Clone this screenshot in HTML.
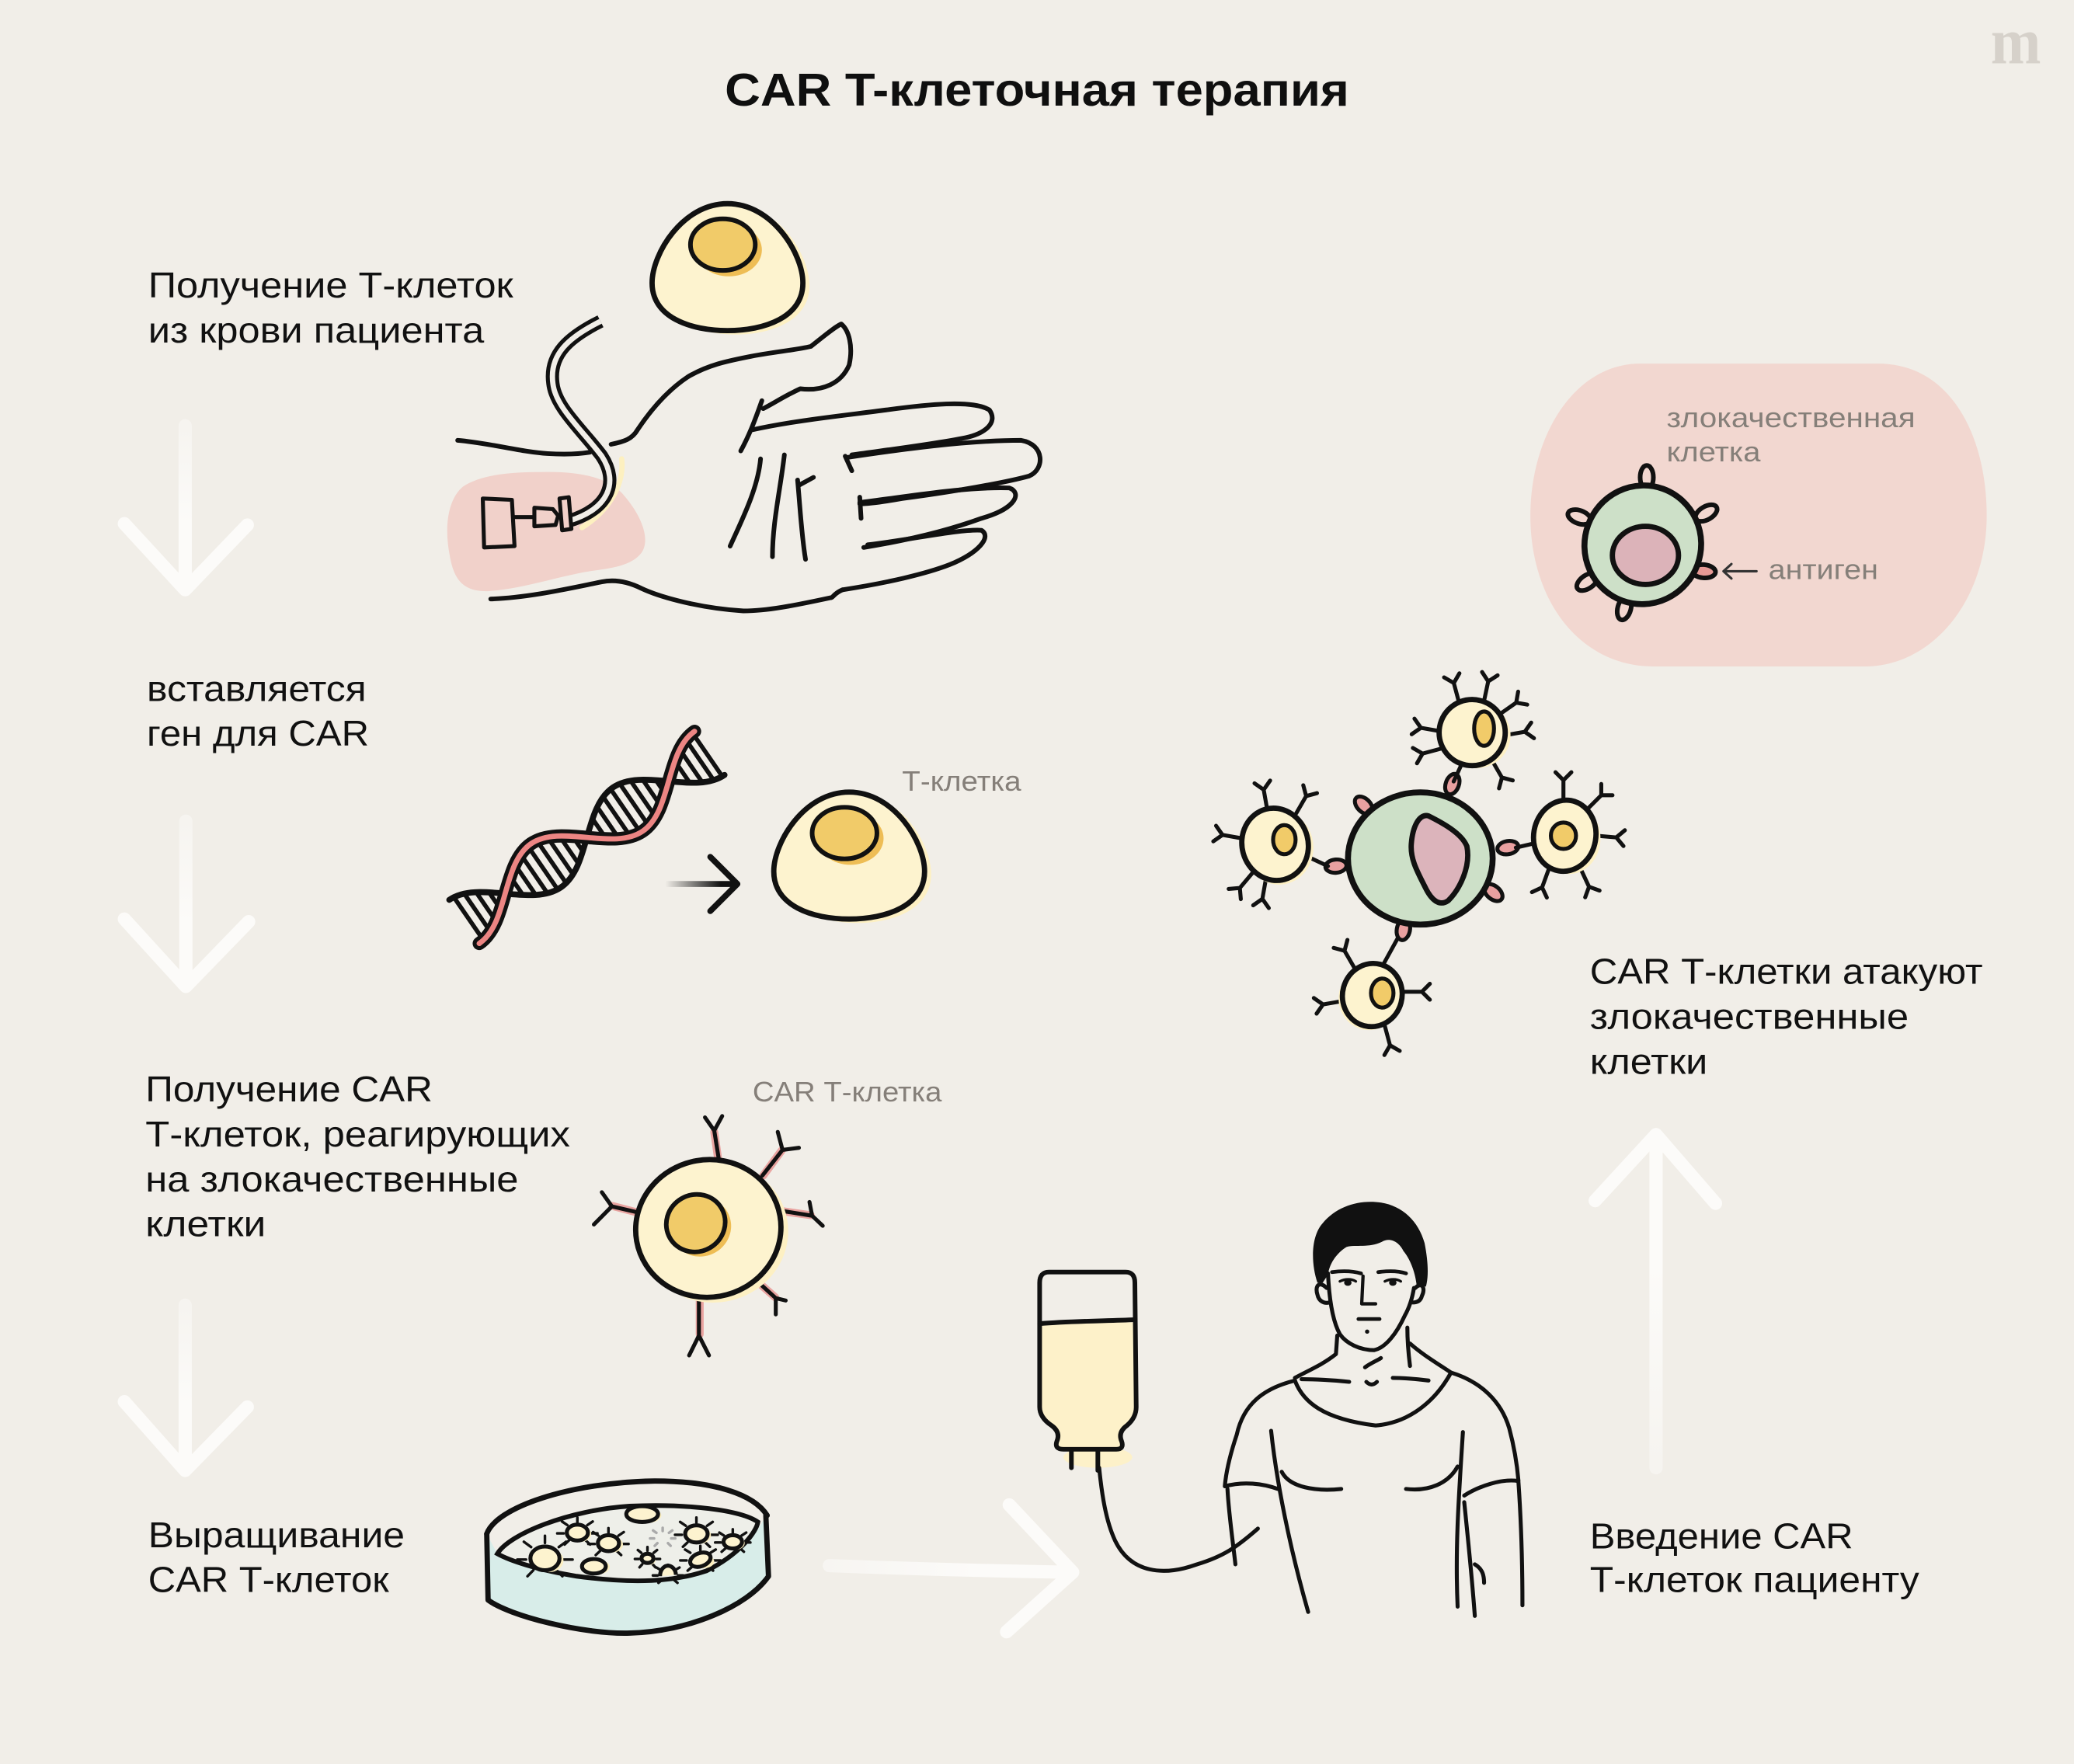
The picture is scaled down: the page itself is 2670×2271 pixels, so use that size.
<!DOCTYPE html>
<html><head><meta charset="utf-8"><style>
html,body{margin:0;padding:0;background:#f1eee8;}
svg{display:block}
.t{font-family:"Liberation Sans","DejaVu Sans",sans-serif;font-size:27px;fill:#111}
.g{font-family:"Liberation Sans","DejaVu Sans",sans-serif;font-size:21px;fill:#857f79}
</style></head><body>
<svg xmlns="http://www.w3.org/2000/svg" width="2670" height="2271" viewBox="0 0 1568 1334" preserveAspectRatio="none">
<defs>
<linearGradient id="ga1" gradientUnits="userSpaceOnUse" x1="0" y1="322" x2="0" y2="446"><stop offset="0" stop-color="#fbfaf8" stop-opacity=".5"/><stop offset=".6" stop-color="#fcfbf9"/></linearGradient>
<linearGradient id="ga2" gradientUnits="userSpaceOnUse" x1="0" y1="620" x2="0" y2="747"><stop offset="0" stop-color="#fbfaf8" stop-opacity=".5"/><stop offset=".6" stop-color="#fcfbf9"/></linearGradient>
<linearGradient id="ga3" gradientUnits="userSpaceOnUse" x1="0" y1="986" x2="0" y2="1113"><stop offset="0" stop-color="#fbfaf8" stop-opacity=".5"/><stop offset=".6" stop-color="#fcfbf9"/></linearGradient>
<linearGradient id="ga4" gradientUnits="userSpaceOnUse" x1="627" y1="0" x2="811" y2="0"><stop offset="0" stop-color="#fbfaf8" stop-opacity=".6"/><stop offset=".6" stop-color="#fcfbf9"/></linearGradient>
<linearGradient id="ga5" gradientUnits="userSpaceOnUse" x1="0" y1="1110" x2="0" y2="858"><stop offset="0" stop-color="#fbfaf8" stop-opacity=".5"/><stop offset=".6" stop-color="#fcfbf9"/></linearGradient>
<linearGradient id="gk" gradientUnits="userSpaceOnUse" x1="503" y1="0" x2="545" y2="0"><stop offset="0" stop-color="#111" stop-opacity="0"/><stop offset="1" stop-color="#111"/></linearGradient>
<clipPath id="dnaclip"><path clip-rule="evenodd" d="M0,-20 C27,-20 48,20 75,20 C102,20 123,-20 150,-20 C177,-20 198,20 225,20 L225,-20 C198,-20 177,20 150,20 C123,20 102,-20 75,-20 C48,-20 27,20 0,20 Z"/></clipPath>
<clipPath id="bottleclip"><path d="M793,962 L851,962 Q858,962 858,970 L859,1064 Q859,1072 852,1078 Q845,1083 848,1090 Q850,1096 844,1096 L804,1096 Q797,1096 799,1090 Q802,1083 795,1078 Q786,1072 786,1064 L786,970 Q786,962 793,962 Z"/></clipPath>
<path id="rc" d="M0,0 L0,-15 M-6,-21 L0,-15 L6,-21"/>
<path id="sp" d="M0,-1.3 L0,-1.9 M-0.95,-0.95 L-1.45,-1.4 M0.95,-0.95 L1.45,-1.4 M-1.3,0.1 L-1.9,0.1 M1.3,0.1 L1.9,0.1 M-0.8,1 L-1.2,1.5 M0.8,1 L1.2,1.5" vector-effect="non-scaling-stroke"/>
<g id="tcell">
<path d="M556,156 C590,156 612,194 612,216 C612,242 584,253 556,253 C528,253 500,242 500,216 C500,194 522,156 556,156 Z" fill="#fdf0c3"/>
<path d="M550,154 C584,154 607,192 607,214 C607,240 578,250 550,250 C522,250 493,240 493,214 C493,192 516,154 550,154 Z" fill="#fdf3cf" stroke="#111" stroke-width="4"/>
<ellipse cx="551" cy="189" rx="25" ry="20" fill="#eebd55"/>
<ellipse cx="546.5" cy="185" rx="24.5" ry="19.5" fill="#f1cb69" stroke="#111" stroke-width="3.5"/>
</g>
</defs>
<rect width="1568" height="1334" fill="#f1eee8"/>

<!-- Title & logo -->
<text x="548" y="80" font-family="Liberation Sans, DejaVu Sans, sans-serif" font-weight="bold" font-size="35" fill="#0f0f0f" textLength="472" lengthAdjust="spacingAndGlyphs">CAR T-клеточная терапия</text>
<text x="1505" y="48" font-family="Liberation Serif, DejaVu Serif, serif" font-weight="bold" font-size="50" fill="#d6d1ca" textLength="38" lengthAdjust="spacingAndGlyphs">m</text>

<!-- Labels -->
<text class="t" x="112" y="225" textLength="276" lengthAdjust="spacingAndGlyphs">Получение Т-клеток</text>
<text class="t" x="112" y="259" textLength="254" lengthAdjust="spacingAndGlyphs">из крови пациента</text>
<text class="t" x="111" y="530" textLength="166" lengthAdjust="spacingAndGlyphs">вставляется</text>
<text class="t" x="111" y="564" textLength="168" lengthAdjust="spacingAndGlyphs">ген для CAR</text>
<text class="t" x="110" y="833" textLength="217" lengthAdjust="spacingAndGlyphs">Получение CAR</text>
<text class="t" x="110" y="867" textLength="321" lengthAdjust="spacingAndGlyphs">Т-клеток, реагирующих</text>
<text class="t" x="110" y="901" textLength="282" lengthAdjust="spacingAndGlyphs">на злокачественные</text>
<text class="t" x="110" y="935" textLength="91" lengthAdjust="spacingAndGlyphs">клетки</text>
<text class="t" x="112" y="1170" textLength="194" lengthAdjust="spacingAndGlyphs">Выращивание</text>
<text class="t" x="112" y="1204" textLength="182" lengthAdjust="spacingAndGlyphs">CAR Т-клеток</text>
<text class="t" x="1202" y="1171" textLength="199" lengthAdjust="spacingAndGlyphs">Введение CAR</text>
<text class="t" x="1202" y="1204" textLength="249" lengthAdjust="spacingAndGlyphs">Т-клеток пациенту</text>
<text class="t" x="1202" y="744" textLength="297" lengthAdjust="spacingAndGlyphs">CAR Т-клетки атакуют</text>
<text class="t" x="1202" y="778" textLength="241" lengthAdjust="spacingAndGlyphs">злокачественные</text>
<text class="t" x="1202" y="812" textLength="89" lengthAdjust="spacingAndGlyphs">клетки</text>

<!-- White arrows -->
<g fill="none" stroke-width="10" stroke-linecap="round" stroke-linejoin="round">
<path stroke="url(#ga1)" d="M140,322 L140,440 M94,396 L140,446 L187,397"/>
<path stroke="url(#ga2)" d="M140.5,621 L140.5,740 M94,695 L140.5,746 L188,697"/>
<path stroke="url(#ga3)" d="M140,987 L140,1106 M94,1060 L140,1112 L187,1064"/>
<path stroke="url(#ga4)" d="M627,1184 C680,1186 750,1188 808,1189 M763,1138 L811,1189 L761,1234"/>
<path stroke="url(#ga5)" d="M1252,1110 L1252,862 M1206,908 L1252,858 L1297,910"/>
</g>

<!-- Hand scene -->
<path d="M409,357 C440,356 462,362 472,375 C485,390 492,408 485,418 C476,430 455,430 440,433 C415,438 395,445 370,447 C350,448 343,438 340,420 C336,400 338,378 350,368 C365,358 390,357 409,357 Z" fill="#f1d1ca"/>
<g fill="none" stroke="#111" stroke-width="3.5" stroke-linecap="round" stroke-linejoin="round">
<path d="M346,333 C370,335 395,342 414,343 C430,344 440,343 446,342"/>
<path d="M462,336 C472,334 478,332 482,325 C492,310 505,295 520,285 C535,276 550,273 565,270 C585,266 600,265 613,262 C622,255 630,248 636,245 C642,250 645,262 642,276 C636,290 622,296 605,294 C592,300 585,305 577,309"/>
<path d="M576,303 C570,320 566,330 560,341"/>
<path d="M569,325 C600,318 640,314 670,310 C700,306 735,302 748,310 C755,320 744,328 730,331 C705,336 672,340 644,344"/>
<path d="M640,346 C680,340 730,333 772,333 C790,336 790,355 778,360 C760,365 720,372 682,377 C665,380 655,381 650,381"/>
<path d="M639,345 L644,356"/>
<path d="M650,380 C690,375 730,368 763,369 C772,372 770,384 742,392 C720,400 690,408 653,414"/>
<path d="M650,376 L651,392"/>
<path d="M656,412 C690,408 725,400 742,401 C750,406 740,418 718,427 C700,434 670,441 637,446"/>
<path d="M637,446 C630,449 630,452 628,452 C600,458 580,462 562,462 C530,460 500,452 485,445 C475,440 465,438 455,440 C430,445 400,452 371,453"/>
<path d="M575,347 C573,370 560,395 552,413"/>
<path d="M593,344 C590,370 584,395 584,421"/>
<path d="M603,363 C605,385 606,405 609,423"/>
<path d="M604,367 L615,361"/>
</g>
<path d="M470,347 C472,365 462,385 440,399" fill="none" stroke="#fdf0c0" stroke-width="4" stroke-linecap="round"/>
<path d="M454,243 C430,255 415,268 418,290 C420,308 440,325 455,345 C468,365 460,385 430,394" fill="none" stroke="#111" stroke-width="10" stroke-linecap="butt"/>
<path d="M454,243 C430,255 415,268 418,290 C420,308 440,325 455,345 C468,365 460,385 430,394" fill="none" stroke="#f1eee8" stroke-width="4"/>
<g fill="none" stroke="#111" stroke-width="3" stroke-linejoin="round">
<path d="M365,377 L387,378 L389,413 L366,414 Z"/>
<path d="M389,391 L404,391"/>
<path d="M404,384 L418,385 L422,390 L420,397 L404,398 Z"/>
<path d="M423,377 L430,376 L432,400 L425,401 Z" fill="#f1d1ca"/>
</g>
<use href="#tcell"/>

<!-- DNA -->
<g transform="translate(351,697) rotate(-34.5)">
<g clip-path="url(#dnaclip)" stroke="#111" stroke-width="3.3">
<path d="M4,-25 L4,25 M12,-25 L12,25 M20,-25 L20,25 M28,-25 L28,25 M48,-25 L48,25 M56,-25 L56,25 M64,-25 L64,25 M72,-25 L72,25 M80,-25 L80,25 M88,-25 L88,25 M96,-25 L96,25 M104,-25 L104,25 M124,-25 L124,25 M132,-25 L132,25 M140,-25 L140,25 M148,-25 L148,25 M156,-25 L156,25 M164,-25 L164,25 M172,-25 L172,25 M180,-25 L180,25 M200,-25 L200,25 M208,-25 L208,25 M216,-25 L216,25 M223,-25 L223,25"/>
</g>
<path d="M0,-20 C27,-20 48,20 75,20 S123,-20 150,-20 S198,20 225,20" fill="none" stroke="#111" stroke-width="4.5" stroke-linecap="round"/>
<path d="M0,20 C27,20 48,-20 75,-20 S123,20 150,20 S198,-20 225,-20" fill="none" stroke="#111" stroke-width="10" stroke-linecap="round"/>
<path d="M0,20 C27,20 48,-20 75,-20 S123,20 150,20 S198,-20 225,-20" fill="none" stroke="#ec8583" stroke-width="4" stroke-linecap="round"/>
</g>
<path d="M503,668.5 L556,668.5" stroke="url(#gk)" stroke-width="4.5" fill="none" stroke-linecap="round"/>
<path d="M537,648 L557.5,668.5 L537,689" stroke="#111" stroke-width="4.5" fill="none" stroke-linecap="round" stroke-linejoin="round"/>
<use href="#tcell" transform="translate(92,445)"/>
<text class="g" x="682" y="598" textLength="90" lengthAdjust="spacingAndGlyphs">Т-клетка</text>

<!-- CAR T cell -->
<g fill="none" stroke-linecap="round" stroke-linejoin="round">
<g stroke="#e9a3a0" stroke-width="6">
<path d="M543,877 L540,856"/><path d="M577,889 L591,870"/><path d="M592,916 L613,919"/><path d="M569,966 L586,981"/><path d="M529,984 L529,1009"/><path d="M486,918 L463,912"/>
</g>
<g stroke="#111" stroke-width="3">
<path d="M543.5,877 L540,855 L533,845 M540,855 L546,844"/>
<path d="M576.4,889 L591.6,869.6 L588,856 M591.6,869.6 L604,868"/>
<path d="M591.6,915.8 L614,919.4 L612,909 M614,919.4 L622,927"/>
<path d="M568.8,965.6 L586.5,981.7 L594,983.5 M586.5,981.7 L586.5,994"/>
<path d="M528.4,983.5 L528.4,1010 L521,1025 M528.4,1010 L536,1025"/>
<path d="M485.4,917.6 L462.6,912.3 L455,901.6 M462.6,912.3 L449,926"/>
</g>
</g>
<ellipse cx="540" cy="932" rx="56" ry="53" fill="#fdf0c3" transform="rotate(-10 540 932)"/>
<ellipse cx="535.5" cy="929" rx="55" ry="52" fill="#fdf3cf" stroke="#111" stroke-width="4" transform="rotate(-10 535.5 929)"/>
<ellipse cx="530" cy="928" rx="23" ry="22" fill="#eebd55" transform="rotate(-30 530 928)"/>
<ellipse cx="526" cy="925" rx="22.5" ry="21.5" fill="#f1cb69" stroke="#111" stroke-width="3.5" transform="rotate(-30 526 925)"/>
<text class="g" x="569" y="833" textLength="143" lengthAdjust="spacingAndGlyphs">CAR Т-клетка</text>

<!-- Petri dish -->
<path d="M368,1160 L369,1210 C385,1222 440,1236 476,1235 C520,1234 565,1215 581,1192 L579,1146 C576,1152 574,1155 572,1158 C560,1175 540,1187 510,1195 C480,1198 440,1194 400,1185 C388,1181 380,1178 376,1175 Z" fill="#d8ede9"/>
<path d="M376,1175 C385,1160 430,1142 476,1139 C520,1137 560,1142 573,1151 C572,1158 560,1175 534,1188 C510,1196 480,1198 436,1192 C405,1187 385,1180 376,1175 Z" fill="#eeefe9" stroke="#111" stroke-width="3.5"/>
<g fill="none" stroke="#111" stroke-width="4" stroke-linecap="round" stroke-linejoin="round">
<path d="M368,1160 C375,1140 430,1121 495,1120 C540,1120 570,1130 580,1146"/>
<path d="M368,1160 L369,1210 C385,1222 440,1236 476,1235 C520,1234 565,1215 581,1192 L579,1146"/>
</g>
<g stroke="#111" fill="none" stroke-width="3.4" stroke-linecap="round">
<use href="#sp" transform="translate(436.5,1159) scale(8,6)"/>
<use href="#sp" transform="translate(460,1167) scale(8,6)"/>
<use href="#sp" transform="translate(412,1178.5) scale(11,9)"/>
<use href="#sp" transform="translate(489.5,1178.5) scale(5,4.5)"/>
<use href="#sp" transform="translate(526.5,1160) scale(8.5,6.5)"/>
<use href="#sp" transform="translate(554,1166) scale(7,5)"/>
<use href="#sp" transform="translate(529.5,1179.5) scale(8,5.5)"/>
<use href="#sp" transform="translate(505,1191) scale(6,4)"/>
<use href="#sp" transform="translate(501,1163) scale(5,4)" stroke="#aaa"/>
</g>
<g fill="#fcefc0">
<ellipse cx="488" cy="1146" rx="12" ry="6"/><ellipse cx="439" cy="1160" rx="8" ry="6"/><ellipse cx="463" cy="1168" rx="8" ry="6"/><ellipse cx="415" cy="1180" rx="11" ry="9"/><ellipse cx="452" cy="1185" rx="9" ry="5.5"/><ellipse cx="491" cy="1180" rx="4.5" ry="3.5"/><ellipse cx="529" cy="1161" rx="8.5" ry="6.5"/><ellipse cx="556" cy="1167" rx="7" ry="5"/><ellipse cx="532" cy="1181" rx="8" ry="5"/>
</g>
<g fill="#fdf3cf" stroke="#111" stroke-width="3">
<ellipse cx="485.5" cy="1145" rx="12" ry="6"/>
<ellipse cx="436.5" cy="1159" rx="8" ry="6"/>
<ellipse cx="460" cy="1167" rx="8" ry="6"/>
<ellipse cx="412" cy="1178.5" rx="11" ry="9"/>
<ellipse cx="449" cy="1184.5" rx="9" ry="5.5"/>
<ellipse cx="489.5" cy="1178.5" rx="4.5" ry="3.5"/>
<ellipse cx="526.5" cy="1160" rx="8.5" ry="6.5"/>
<ellipse cx="554" cy="1166" rx="7" ry="5"/>
<ellipse cx="529.5" cy="1179.5" rx="8" ry="5" transform="rotate(-20 529.5 1179.5)"/>
<path d="M499,1192 C499,1186 503,1184 505,1184 C508,1184 511,1187 511,1191"/>
</g>

<!-- Bottle -->
<g clip-path="url(#bottleclip)">
<rect x="780" y="955" width="90" height="150" fill="#f1eee8"/>
<rect x="780" y="1000" width="90" height="110" fill="#fdf1c9"/>
</g>
<ellipse cx="830" cy="1102" rx="26" ry="8" fill="#fdf1c9"/>
<g fill="none" stroke="#111" stroke-width="3.5" stroke-linecap="round" stroke-linejoin="round">
<path d="M793,962 L851,962 Q858,962 858,970 L859,1064 Q859,1072 852,1078 Q845,1083 848,1090 Q850,1096 844,1096 L804,1096 Q797,1096 799,1090 Q802,1083 795,1078 Q786,1072 786,1064 L786,970 Q786,962 793,962 Z"/>
<path d="M786,1001 C810,999 835,999 858,998"/>
<path d="M810,1097 L810,1110 M830,1097 L830,1112"/>
<path d="M831,1110 C833,1130 836,1150 843,1165 C855,1190 880,1192 905,1183 C925,1177 935,1170 951,1156" stroke-width="3"/>
</g>

<!-- Man -->
<path d="M996,970 C991,955 991,935 1000,925 C1010,913 1025,908 1040,909 C1058,910 1072,922 1077,940 C1080,955 1080,966 1078,973 L1071,972 C1070,962 1066,952 1061,946 C1057,938 1050,936 1045,939 C1035,944 1025,941 1018,943 C1010,948 1005,956 1004,964 L1000,970 Z" fill="#111"/>
<g fill="none" stroke="#111" stroke-width="3" stroke-linecap="round" stroke-linejoin="round">
<path d="M1004,963 C1005,985 1008,1000 1013,1009 C1018,1016 1028,1021 1039,1021 C1048,1019 1056,1008 1062,995 C1066,988 1068,980 1069,974"/>
<path d="M1003,974 C997,968 994,973 996,979 C997,984 1001,986 1005,985"/>
<path d="M1070,974 C1075,969 1078,974 1075,980 C1074,984 1071,985 1068,985"/>
<path d="M1007,962 C1015,961 1022,961 1029,963 M1042,962 C1050,961 1057,961 1063,963" stroke-width="2.8"/>
<path d="M1013,969 C1017,967 1022,967 1025,969 M1047,969 C1051,967 1056,967 1059,969" stroke-width="2"/>
<path d="M1030.5,965 L1029.5,986 L1040,986" stroke-width="2.5"/>
<path d="M1027,997.5 L1043,997.5" stroke-width="2.8"/>
<path d="M1011,1010 L1010,1024 C1000,1032 990,1036 979,1042 M1064,1004 C1064,1015 1065,1025 1066,1033 M1066,1016 C1075,1024 1085,1030 1097,1038"/>
<path d="M984,1043 C995,1043 1010,1044 1020,1045 M1053,1042 C1062,1042 1072,1043 1080,1044 M1033,1045 Q1037,1049 1041,1045 M1032,1034 C1036,1031 1041,1029 1044,1027"/>
<path d="M979,1044 C985,1060 1000,1073 1040,1078 C1065,1076 1085,1060 1097,1038"/>
<path d="M979,1044 C955,1050 940,1062 935,1085 C930,1100 927,1112 926,1124 C940,1120 955,1122 966,1126"/>
<path d="M1097,1038 C1120,1045 1135,1060 1141,1080 C1145,1095 1147,1108 1148,1120 C1135,1118 1118,1124 1107,1131"/>
<path d="M961,1082 C965,1120 975,1170 989,1219 M1106,1083 C1103,1130 1100,1170 1102,1215"/>
<path d="M969,1113 C975,1125 995,1128 1014,1126 M1063,1126 C1080,1128 1095,1122 1102,1109"/>
<path d="M928,1126 C929,1145 932,1165 934,1183"/>
<path d="M1148,1121 C1150,1150 1151,1180 1151,1214 M1107,1136 C1110,1165 1113,1195 1115,1222 M1115,1183 C1120,1186 1122,1190 1122,1197"/>
</g>
<circle cx="1033.6" cy="1007" r="1.6" fill="#111"/>
<ellipse cx="1019" cy="970" rx="2.8" ry="2.4" fill="#111"/>
<ellipse cx="1053" cy="970" rx="2.8" ry="2.4" fill="#111"/>

<!-- Malignant cell blob -->
<path d="M1240,275 L1420,275 C1475,275 1502,330 1502,390 C1502,455 1460,504 1410,504 L1250,504 C1195,504 1157,455 1157,390 C1157,330 1190,275 1240,275 Z" fill="#f2d7d0"/>
<text class="g" x="1260" y="323" textLength="188" lengthAdjust="spacingAndGlyphs">злокачественная</text>
<text class="g" x="1260" y="349" textLength="71" lengthAdjust="spacingAndGlyphs">клетка</text>
<path d="M1303,432 L1328,432 M1309,426.5 L1303,432 L1309,437.5" stroke="#333" stroke-width="1.8" fill="none" stroke-linecap="round" stroke-linejoin="round"/>
<text class="g" x="1337" y="438" textLength="83" lengthAdjust="spacingAndGlyphs">антиген</text>
<g stroke="#111" stroke-width="3.5" fill="#f2d7d0">
<ellipse cx="1245" cy="361" rx="5" ry="9"/>
<ellipse cx="1194" cy="391" rx="5" ry="9" transform="rotate(-70 1194 391)"/>
<ellipse cx="1290" cy="388" rx="5" ry="9" transform="rotate(60 1290 388)"/>
<ellipse cx="1200" cy="440" rx="5" ry="9" transform="rotate(-125 1200 440)"/>
<ellipse cx="1228" cy="460" rx="5" ry="9" transform="rotate(195 1228 460)"/>
<ellipse cx="1288" cy="432" rx="5" ry="9" fill="#e79a96" transform="rotate(95 1288 432)"/>
</g>
<ellipse cx="1242" cy="412" rx="44" ry="45" fill="#cde0c8" stroke="#111" stroke-width="4.5" transform="rotate(20 1242 412)"/>
<ellipse cx="1244" cy="420" rx="25" ry="22" fill="#dcb3b9" stroke="#111" stroke-width="4"/>

<!-- Attack cluster -->
<g stroke="#111" stroke-width="3" fill="#e9a0a0">
<ellipse cx="1098" cy="593" rx="5" ry="8" transform="rotate(20 1098 593)"/>
<ellipse cx="1031" cy="609" rx="5" ry="8" transform="rotate(-45 1031 609)"/>
<ellipse cx="1140" cy="641" rx="5" ry="8" transform="rotate(80 1140 641)"/>
<ellipse cx="1129" cy="675" rx="5" ry="8" transform="rotate(130 1129 675)"/>
<ellipse cx="1061" cy="703" rx="5" ry="8" transform="rotate(190 1061 703)"/>
<ellipse cx="1010" cy="655" rx="5" ry="8" transform="rotate(-95 1010 655)"/>
</g>
<ellipse cx="1073.8" cy="649.2" rx="54.7" ry="50" fill="#cde0c8" stroke="#111" stroke-width="4.5"/>
<path d="M1080,617 C1090,622 1105,630 1109,640 C1112,655 1104,672 1095,681 C1088,686 1082,680 1078,672 C1072,660 1066,650 1067,638 C1068,625 1073,615 1080,617 Z" fill="#dcb4bb" stroke="#111" stroke-width="4"/>
<g fill="none" stroke="#111" stroke-width="3" stroke-linecap="round" stroke-linejoin="round">
<path d="M1105,578 L1099,591 M989,648 L1004,655 M1159,638 L1146,641 M1046,729 L1057,709"/>
<use href="#rc" transform="translate(1103,531) rotate(-15)"/>
<use href="#rc" transform="translate(1122,530) rotate(12)"/>
<use href="#rc" transform="translate(1089,553) rotate(-80)"/>
<use href="#rc" transform="translate(1090,566) rotate(-105)"/>
<use href="#rc" transform="translate(1134,540) rotate(55)"/>
<use href="#rc" transform="translate(1138,556) rotate(80)"/>
<use href="#rc" transform="translate(1128,575) rotate(150)"/>
<use href="#rc" transform="translate(958,612) rotate(-10)"/>
<use href="#rc" transform="translate(980,615) rotate(30)"/>
<use href="#rc" transform="translate(939,634) rotate(-80)"/>
<use href="#rc" transform="translate(947,660) rotate(-140)"/>
<use href="#rc" transform="translate(957,665) rotate(190)"/>
<use href="#rc" transform="translate(1182,605) rotate(0)"/>
<use href="#rc" transform="translate(1200,612) rotate(45)"/>
<use href="#rc" transform="translate(1207,632) rotate(95)"/>
<use href="#rc" transform="translate(1171,657) rotate(200)"/>
<use href="#rc" transform="translate(1195,657) rotate(155)"/>
<use href="#rc" transform="translate(1024,732) rotate(-30)"/>
<use href="#rc" transform="translate(1015,757) rotate(-100)"/>
<use href="#rc" transform="translate(1060,750) rotate(90)"/>
<use href="#rc" transform="translate(1047,776) rotate(165)"/>
</g>
<g stroke="#111" stroke-width="4">
<ellipse cx="1116" cy="556" rx="26" ry="25" fill="#fdf0c3" stroke="none"/>
<ellipse cx="1113" cy="554" rx="25" ry="25" fill="#fdf3cf"/>
<ellipse cx="967" cy="641" rx="26" ry="28" fill="#fdf0c3" stroke="none"/>
<ellipse cx="964" cy="638.5" rx="25" ry="27.5" fill="#fdf3cf" transform="rotate(-15 964 638.5)"/>
<ellipse cx="1186" cy="634" rx="24" ry="27" fill="#fdf0c3" stroke="none"/>
<ellipse cx="1183" cy="632" rx="23.5" ry="27" fill="#fdf3cf" transform="rotate(10 1183 632)"/>
<ellipse cx="1035" cy="755" rx="23" ry="24" fill="#fdf0c3" stroke="none"/>
<ellipse cx="1037.5" cy="752.5" rx="22.5" ry="24" fill="#fdf3cf" transform="rotate(15 1037.5 752.5)"/>
</g>
<g stroke="#111" stroke-width="3" fill="#f1cb69">
<ellipse cx="1122" cy="551" rx="7.5" ry="13"/>
<ellipse cx="971" cy="635" rx="8.5" ry="11"/>
<ellipse cx="1182" cy="632" rx="9.5" ry="10"/>
<ellipse cx="1045" cy="751" rx="8.5" ry="11"/>
</g>
</svg>
</body></html>
